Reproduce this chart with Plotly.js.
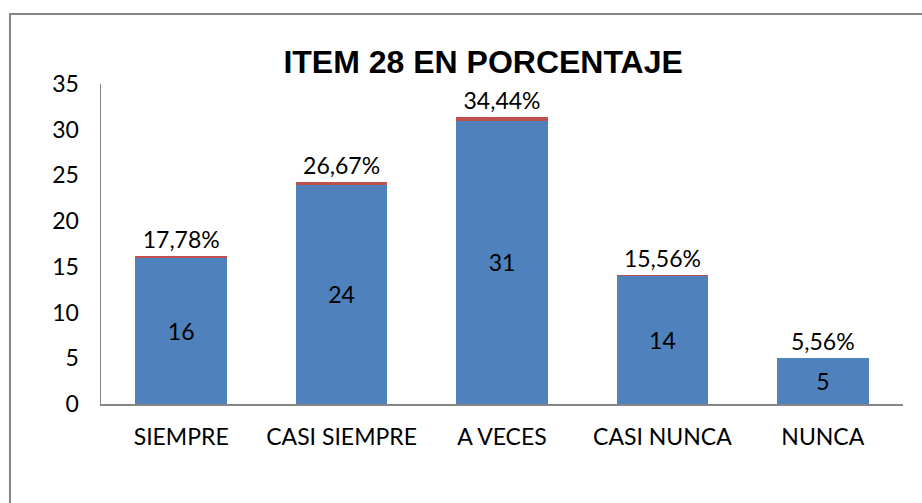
<!DOCTYPE html>
<html>
<head>
<meta charset="utf-8">
<script src="https://cdn.plot.ly/plotly-3.0.1.min.js"></script>
<style>html,body{margin:0;padding:0;background:#fff;}#chart{width:922px;height:503px;}</style>
</head>
<body>
<div id="chart"></div>
<script>
const categories = ["SIEMPRE", "CASI SIEMPRE", "A VECES", "CASI NUNCA", "NUNCA"];
const counts = [16, 24, 31, 14, 5];
const percents = [17.78, 26.67, 34.44, 15.56, 5.56];
const percentLabels = ["17,78%", "26,67%", "34,44%", "15,56%", "5,56%"];
const yTicks = [0, 5, 10, 15, 20, 25, 30, 35];

const font = "Lato, 'Open Sans', sans-serif";

const traces = [
  {
    type: "bar",
    x: categories,
    y: counts,
    text: counts.map(String),
    textposition: "inside",
    insidetextanchor: "middle",
    textfont: {family: font, size: 23, color: "#000"},
    marker: {color: "#4F81BD"},
    hoverinfo: "none"
  },
  {
    type: "bar",
    x: categories,
    y: percents.map(p => p / 100),
    text: percentLabels,
    textposition: "outside",
    textfont: {family: font, size: 23, color: "#000"},
    marker: {color: "#C0504D"},
    cliponaxis: false,
    hoverinfo: "none"
  }
];

const layout = {
  width: 922,
  height: 503,
  margin: {l: 101, r: 19, t: 84, b: 99},
  paper_bgcolor: "#fff",
  plot_bgcolor: "#fff",
  barmode: "stack",
  bargap: 0.43,
  showlegend: false,
  title: {
    text: "<b>ITEM 28 EN PORCENTAJE</b>",
    font: {family: "'Liberation Sans', Arial, sans-serif", size: 32, color: "#000"},
    xref: "container", x: 0.524, xanchor: "center",
    yref: "container", y: 0.877, yanchor: "middle"
  },
  xaxis: {
    type: "category",
    range: [-0.5, 4.5],
    showline: true, linecolor: "#868686", linewidth: 2,
    ticks: "", showgrid: false, zeroline: false,
    tickfont: {family: font, size: 23, color: "#000"},
    ticklabelstandoff: 11
  },
  yaxis: {
    range: [0, 35],
    tickvals: yTicks,
    showline: true, linecolor: "#868686", linewidth: 1.5,
    ticks: "", showgrid: false, zeroline: false,
    tickfont: {family: font, size: 23, color: "#000"},
    ticklabelstandoff: 16
  },
  shapes: [
    {
      type: "rect", xref: "paper", yref: "paper",
      x0: -0.1135, x1: 1.2, y0: -0.6, y1: 1.219,
      line: {color: "#868686", width: 2}, fillcolor: "rgba(0,0,0,0)", layer: "below"
    }
  ]
};

Plotly.newPlot("chart", traces, layout, {staticPlot: true, displayModeBar: false});
</script>
</body>
</html>
